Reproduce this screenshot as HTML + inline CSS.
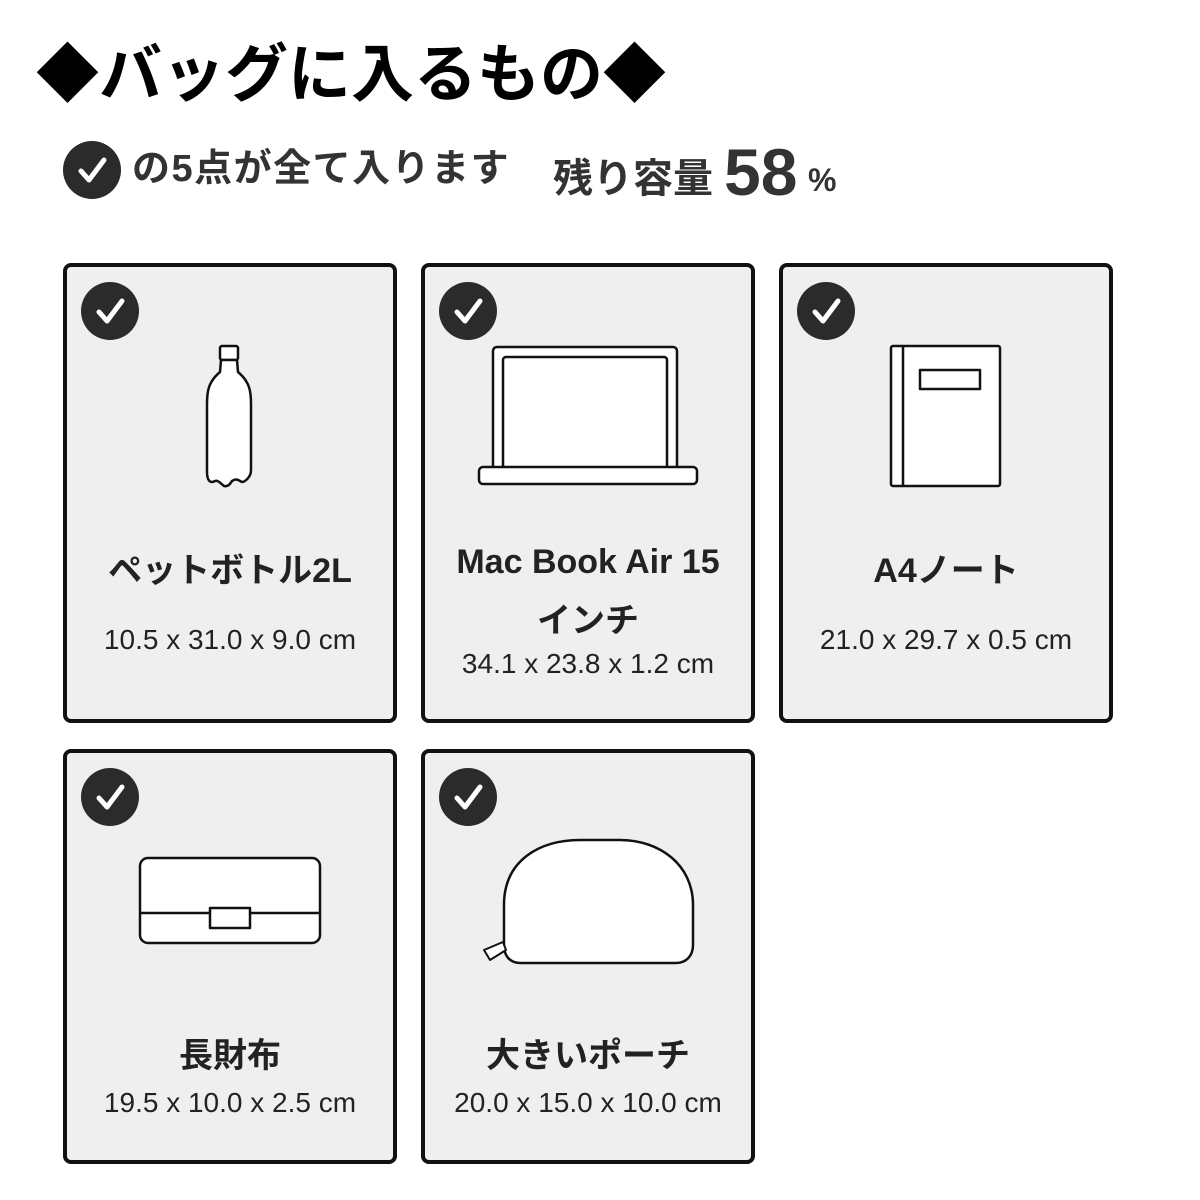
<!DOCTYPE html>
<html><head><meta charset="utf-8"><style>
body{margin:0;width:1200px;height:1200px;background:#fff;position:relative;overflow:hidden;font-family:"Liberation Sans","Noto Sans CJK JP",sans-serif;color:#222}
.a{position:absolute;white-space:nowrap}
.card{position:absolute;width:334px;box-sizing:border-box;border:4px solid #111;border-radius:8px;background:#efefef}
.t{position:absolute;width:100%;text-align:center;font-weight:bold;font-size:34px;color:#222}
.d{position:absolute;width:100%;text-align:center;font-size:28px;color:#222}
</style></head><body>
<div class="a" style="left:36px;top:30px;font-size:63px;font-weight:bold;color:#000;line-height:90px">◆バッグに入るもの◆</div>
<div class="a" style="left:132px;top:144px;font-size:38px;font-weight:bold;color:#333;line-height:50px;letter-spacing:1.5px">の5点が全て入ります</div>
<div class="a" style="left:553px;top:154px;font-size:40px;font-weight:bold;color:#333;line-height:50px">残り容量</div>
<div class="a" style="left:724px;top:136px;font-size:66px;font-weight:bold;color:#333;line-height:72px">58</div>
<div class="a" style="left:808px;top:160px;font-size:32px;font-weight:bold;color:#333;line-height:40px">%</div>

<div class="card" style="left:63px;top:263px;height:460px"><div class="t" style="top:276px">ペットボトル2L</div><div class="d" style="top:357px">10.5 x 31.0 x 9.0 cm</div></div>
<div class="card" style="left:421px;top:263px;height:460px"><div class="t" style="top:276px">Mac Book Air 15</div><div class="t" style="top:326px">インチ</div><div class="d" style="top:381px">34.1 x 23.8 x 1.2 cm</div></div>
<div class="card" style="left:779px;top:263px;height:460px"><div class="t" style="top:276px">A4ノート</div><div class="d" style="top:357px">21.0 x 29.7 x 0.5 cm</div></div>
<div class="card" style="left:63px;top:749px;height:415px"><div class="t" style="top:275px">長財布</div><div class="d" style="top:334px">19.5 x 10.0 x 2.5 cm</div></div>
<div class="card" style="left:421px;top:749px;height:415px"><div class="t" style="top:275px">大きいポーチ</div><div class="d" style="top:334px">20.0 x 15.0 x 10.0 cm</div></div>

<svg class="a" style="left:0;top:0" width="1200" height="1200" viewBox="0 0 1200 1200">
<defs><g id="ck"><circle r="29" fill="#2b2b2b"/><path d="M-11,1 L-3,10 L12,-10" fill="none" stroke="#fff" stroke-width="5" stroke-linecap="round" stroke-linejoin="round"/></g></defs>
<use href="#ck" x="92" y="170"/>
<use href="#ck" x="110" y="311"/><use href="#ck" x="468" y="311"/><use href="#ck" x="826" y="311"/>
<use href="#ck" x="110" y="797"/><use href="#ck" x="468" y="797"/>
<g fill="#fff" stroke="#111" stroke-width="2.5" stroke-linejoin="round">
<rect x="220" y="346" width="18" height="14" rx="2"/>
<path d="M221,360 L237,360 L238,372 C250,382 251,392 251,404 L251,470 C251,478 244,482 242,482 C238,480 236,478 232,481 C230,484 228,487 224,486 C220,483 218,480 215,481 C210,484 207,480 207,472 L207,404 C207,392 208,382 220,372 Z"/>
<rect x="493" y="347" width="184" height="125" rx="4"/>
<rect x="503" y="357" width="164" height="113" rx="3"/>
<rect x="479" y="467" width="218" height="17" rx="4"/>
<rect x="891" y="346" width="109" height="140" rx="2"/>
<line x1="903" y1="346" x2="903" y2="486"/>
<rect x="920" y="370" width="60" height="19"/>
<rect x="140" y="858" width="180" height="85" rx="8"/>
<path d="M140,913 L320,913"/>
<rect x="210" y="908" width="40" height="20"/>
<path d="M504,945 L504,905 C504,860 540,840 580,840 L620,840 C660,840 693,865 693,905 L693,945 C693,956 686,963 676,963 L520,963 C510,963 504,956 504,945 Z"/>
<path d="M503,942 L484,950 L490,960 L506,950 Z" stroke-width="2"/>
</g>
</svg>
</body></html>
